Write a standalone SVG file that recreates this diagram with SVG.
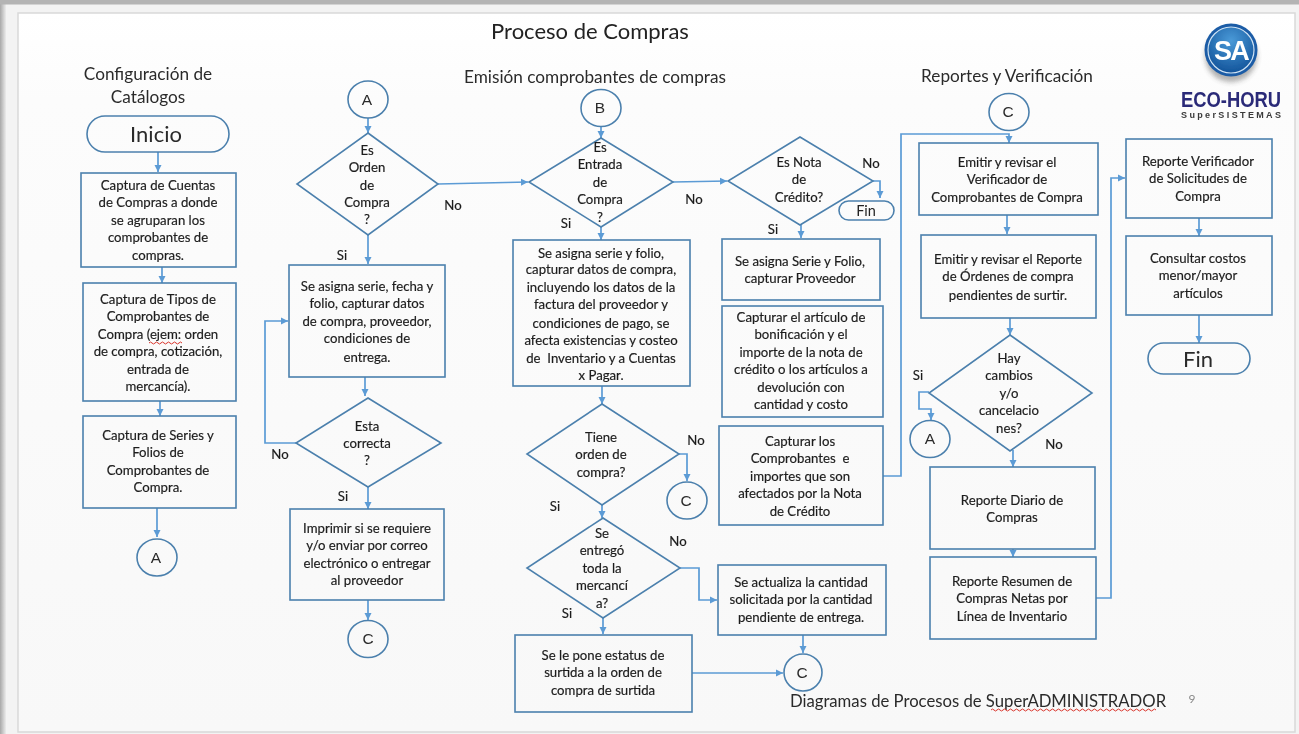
<svg xmlns="http://www.w3.org/2000/svg" width="1299" height="734" viewBox="0 0 1299 734">
<style>
.n{fill:none;stroke:#4c80ad;stroke-width:1.6}
.c{fill:none;stroke:#5b9bd5;stroke-width:1.7;marker-end:url(#ah)}
text{font-family:"Lato","Liberation Sans",sans-serif;fill:#222;text-anchor:middle}
.t text{font-size:13.2px;fill:#1c1c1c;stroke:#1c1c1c;stroke-width:0.18;transform:translateY(0.6px)}
.h{font-size:17.200px;fill:#2b2b2b;transform:translateY(0.8px)}
.k{font-size:22px;fill:#2b2b2b}
.o{font-family:"Liberation Sans",sans-serif;font-size:15.5px;fill:#2b2b2b}
.sq{fill:none;stroke:#d8352a;stroke-width:1}
</style>
<defs>
<marker id="ah" markerUnits="userSpaceOnUse" markerWidth="8" markerHeight="8" refX="7" refY="4" orient="auto"><path d="M0 0.5L7 4L0 7.5Z" fill="#5b9bd5"/></marker>
<linearGradient id="bg" x1="0" y1="0" x2="0" y2="1"><stop offset="0" stop-color="#fff"/><stop offset="0.12" stop-color="#fcfcfc"/><stop offset="1" stop-color="#f8f8f8"/></linearGradient>
<linearGradient id="ls" x1="0" y1="0" x2="1" y2="0"><stop offset="0" stop-color="#a8a8a8"/><stop offset="1" stop-color="#ececec"/></linearGradient>
<radialGradient id="sa" cx="0.5" cy="0.3" r="0.75"><stop offset="0" stop-color="#4a9ad8"/><stop offset="1" stop-color="#0f4f96"/></radialGradient>
<filter id="soft" filterUnits="userSpaceOnUse" x="0" y="0" width="1299" height="734"><feGaussianBlur stdDeviation="0.35"/></filter>
<filter id="shb" x="-30%" y="-30%" width="160%" height="160%"><feGaussianBlur stdDeviation="2.5"/></filter>
</defs>
<rect width="1299" height="734" fill="#f3f3f3"/>
<rect x="0" y="0" width="6" height="734" fill="url(#ls)"/>
<rect x="0" y="0" width="1299" height="4.500" fill="#b4b4b4"/>
<rect x="18" y="13" width="1277" height="719" fill="url(#bg)" stroke="#d9d9d9" stroke-width="1.500"/>
<g filter="url(#soft)">
<g id="connectors">
<path class="c" d="M158 152V172"/>
<path class="c" d="M162 267V283"/>
<path class="c" d="M160 401V416"/>
<path class="c" d="M157 508V537"/>
<path class="c" d="M368 118V133"/>
<path class="c" d="M368 235V264"/>
<path class="c" d="M365 377V396"/>
<path class="c" d="M296 443H265V321H288"/>
<path class="c" d="M368 487V509"/>
<path class="c" d="M368 600V620"/>
<path class="c" d="M438 184L528 182"/>
<path class="c" d="M601 126V138"/>
<path class="c" d="M601 227V240"/>
<path class="c" d="M673 182L727 181"/>
<path class="c" d="M873 181H880V198"/>
<path class="c" d="M801 225V238"/>
<path class="c" d="M602 386V404"/>
<path class="c" d="M679 454H687V481"/>
<path class="c" d="M602 505V518"/>
<path class="c" d="M680 568H699V600H717"/>
<path class="c" d="M603 618V634"/>
<path class="c" d="M692 673L783 673"/>
<path class="c" d="M803 635V653"/>
<path class="c" d="M883 476H901V134H1009V143"/>
<path class="c" d="M1007 215V234"/>
<path class="c" d="M1010 318V335"/>
<path class="c" d="M929 392H919V409H931V420"/>
<path class="c" d="M1013 450V467"/>
<path class="c" d="M1013 549V557"/>
<path class="c" d="M1096 598H1111V178H1125"/>
<path class="c" d="M1199 218V236"/>
<path class="c" d="M1199 315V343"/>
</g>
<g id="titles">
<text x="590" y="39" style="font-size:22px">Proceso de Compras</text>
<text class="h" x="148" y="79">Configuración de</text>
<text class="h" x="148" y="102">Catálogos</text>
<text class="h" x="595" y="82.500">Emisión comprobantes de compras</text>
<text class="h" x="1007" y="81">Reportes y Verificación</text>
<text class="h" x="978" y="706" style="font-size:16.700px">Diagramas de Procesos de SuperADMINISTRADOR</text>
<text x="1192" y="703" style="font-size:12px;fill:#8a8a8a">9</text>
<path class="sq" d="M991 710q1.500 -2 3 0t3 0t3 0t3 0t3 0t3 0t3 0t3 0t3 0t3 0t3 0t3 0t3 0t3 0t3 0t3 0t3 0t3 0t3 0t3 0t3 0t3 0t3 0t3 0t3 0t3 0t3 0t3 0t3 0t3 0t3 0t3 0t3 0t3 0t3 0t3 0t3 0t3 0t3 0t3 0t3 0t3 0t3 0t3 0t3 0t3 0t3 0t3 0t3 0t3 0t3 0t3 0t3 0t3 0t3 0"/>
</g>
<g id="labels" class="t">
<text x="453" y="209">No</text>
<text x="342" y="259">Si</text>
<text x="280" y="458">No</text>
<text x="343" y="500">Si</text>
<text x="566" y="227">Si</text>
<text x="694" y="203">No</text>
<text x="871" y="167">No</text>
<text x="773" y="233">Si</text>
<text x="696" y="444">No</text>
<text x="555" y="510">Si</text>
<text x="678" y="545">No</text>
<text x="567" y="617">Si</text>
<text x="918" y="379">Si</text>
<text x="1054" y="448">No</text>
</g>
<g id="inicio"><rect class="n" x="87" y="116" width="142" height="36" rx="18"/><text x="156" y="142" class="k">Inicio</text></g>
<g id="box-cuentas" class="t"><rect class="n" x="81" y="173" width="155" height="94"/>
<text x="158" y="189">Captura de Cuentas</text><text x="158" y="206">de Compras a donde</text><text x="158" y="224">se agruparan los</text><text x="158" y="241">comprobantes de</text><text x="158" y="259">compras.</text></g>
<g id="box-tipos" class="t"><rect class="n" x="83" y="283" width="153" height="118"/>
<text x="158" y="303">Captura de Tipos de</text><text x="158" y="320">Comprobantes de</text><text x="158" y="338">Compra (ejem: orden</text><text x="158" y="355">de compra, cotización,</text><text x="158" y="373">entrada de</text><text x="158" y="390">mercancía).</text>
<path class="sq" d="M149 343q1.500 -2 3 0t3 0t3 0t3 0t3 0t3 0t3 0t3 0t3 0t3 0t3 0"/></g>
<g id="box-series" class="t"><rect class="n" x="83" y="416" width="153" height="92"/>
<text x="158" y="439">Captura de Series y</text><text x="158" y="456">Folios de</text><text x="158" y="474">Comprobantes de</text><text x="158" y="491">Compra.</text></g>
<g id="conn-a1"><ellipse class="n" cx="157" cy="557.500" rx="20" ry="18.500"/><text class="o" x="156" y="563">A</text></g>
<g id="conn-a2"><ellipse class="n" cx="368" cy="99.500" rx="20" ry="18.500"/><text class="o" x="367" y="105">A</text></g>
<g id="dec-orden" class="t"><path class="n" d="M368 133L438 184L368 235L297 184Z"/>
<text x="367" y="154">Es</text><text x="367" y="171">Orden</text><text x="367" y="189">de</text><text x="367" y="206">Compra</text><text x="367" y="223">?</text></g>
<g id="box-serie" class="t"><rect class="n" x="289" y="265" width="156" height="112"/>
<text x="367" y="290">Se asigna serie, fecha y</text><text x="367" y="307">folio, capturar datos</text><text x="367" y="325">de compra, proveedor,</text><text x="367" y="342">condiciones de</text><text x="367" y="361">entrega.</text></g>
<g id="dec-correcta" class="t"><path class="n" d="M368 398L441 443L368 487L296 443Z"/>
<text x="367" y="430">Esta</text><text x="367" y="447">correcta</text><text x="367" y="464">?</text></g>
<g id="box-imprimir" class="t"><rect class="n" x="290" y="509" width="154" height="91"/>
<text x="367" y="532">Imprimir si se requiere</text><text x="367" y="549">y/o enviar por correo</text><text x="367" y="567">electrónico o entregar</text><text x="367" y="584">al proveedor</text></g>
<g id="conn-c1"><ellipse class="n" cx="368" cy="639" rx="20" ry="18.500"/><text class="o" x="368" y="644">C</text></g>
<g id="conn-b"><ellipse class="n" cx="601" cy="108" rx="20" ry="18.500"/><text class="o" x="600" y="113">B</text></g>
<g id="dec-entrada" class="t"><path class="n" d="M601 138L673 182L601 227L529 182Z"/>
<text x="600" y="151">Es</text><text x="600" y="168">Entrada</text><text x="600" y="186">de</text><text x="600" y="203">Compra</text><text x="600" y="221">?</text></g>
<g id="box-entrada" class="t"><rect class="n" x="513" y="240" width="177" height="146"/>
<text x="601" y="257">Se asigna serie y folio,</text><text x="601" y="273">capturar datos de compra,</text><text x="601" y="291">incluyendo los datos de la</text><text x="601" y="308">factura del proveedor y</text><text x="601" y="327">condiciones de pago, se</text><text x="601" y="344">afecta existencias y costeo</text><text x="601" y="362" xml:space="preserve">de  Inventario y a Cuentas</text><text x="601" y="379">x Pagar.</text></g>
<g id="dec-tiene" class="t"><path class="n" d="M602 404L679 454L602 505L527 454Z"/>
<text x="601" y="441">Tiene</text><text x="601" y="458">orden de</text><text x="601" y="476">compra?</text></g>
<g id="conn-c2"><ellipse class="n" cx="687" cy="500.500" rx="20" ry="18.500"/><text class="o" x="686" y="506">C</text></g>
<g id="dec-entrego" class="t"><path class="n" d="M603 518L680 568L603 618L527 568Z"/>
<text x="602" y="537">Se</text><text x="602" y="554">entregó</text><text x="602" y="572">toda la</text><text x="602" y="589">mercancí</text><text x="602" y="607">a?</text></g>
<g id="box-surtida" class="t"><rect class="n" x="515" y="635" width="177" height="77"/>
<text x="603" y="659">Se le pone estatus de</text><text x="603" y="676">surtida a la orden de</text><text x="603" y="694">compra de surtida</text></g>
<g id="box-actualiza" class="t"><rect class="n" x="718" y="565" width="168" height="70"/>
<text x="801" y="586">Se actualiza la cantidad</text><text x="801" y="603">solicitada por la cantidad</text><text x="801" y="621">pendiente de entrega.</text></g>
<g id="conn-c3"><ellipse class="n" cx="803" cy="672.500" rx="19" ry="18.500"/><text class="o" x="802" y="678">C</text></g>
<g id="dec-nota" class="t"><path class="n" d="M800 137L873 181L800 225L728 181Z"/>
<text x="799" y="166">Es Nota</text><text x="799" y="183">de</text><text x="799" y="201">Crédito?</text></g>
<g id="fin-nota"><rect class="n" x="839" y="201" width="55" height="19" rx="9.500"/><text x="866" y="216" style="font-size:14.500px">Fin</text></g>
<g id="box-nota-serie" class="t"><rect class="n" x="722" y="239" width="158" height="61"/>
<text x="800" y="265">Se asigna Serie y Folio,</text><text x="800" y="282">capturar Proveedor</text></g>
<g id="box-bonificacion" class="t"><rect class="n" x="722" y="306" width="161" height="111"/>
<text x="801" y="321">Capturar el artículo de</text><text x="801" y="338">bonificación y el</text><text x="801" y="356">importe de la nota de</text><text x="801" y="373">crédito o los artículos a</text><text x="801" y="391">devolución con</text><text x="801" y="408">cantidad y costo</text></g>
<g id="box-capturar" class="t"><rect class="n" x="719" y="426" width="164" height="99"/>
<text x="800" y="445">Capturar los</text><text x="800" y="462" xml:space="preserve">Comprobantes  e</text><text x="800" y="480">importes que son</text><text x="800" y="497">afectados por la Nota</text><text x="800" y="515">de Crédito</text></g>
<g id="conn-c4"><ellipse class="n" cx="1009" cy="112" rx="20" ry="18.500"/><text class="o" x="1008" y="117">C</text></g>
<g id="box-verificador" class="t"><rect class="n" x="919" y="143" width="179" height="72"/>
<text x="1007" y="166">Emitir y revisar el</text><text x="1007" y="183">Verificador de</text><text x="1007" y="201">Comprobantes de Compra</text></g>
<g id="box-ordenes" class="t"><rect class="n" x="921" y="235" width="175" height="83"/>
<text x="1008" y="263">Emitir y revisar el Reporte</text><text x="1008" y="280">de Órdenes de compra</text><text x="1008" y="299">pendientes de surtir.</text></g>
<g id="dec-cambios" class="t"><path class="n" d="M1010 335L1092 393L1010 451L929 393Z"/>
<text x="1009" y="362">Hay</text><text x="1009" y="379">cambios</text><text x="1009" y="397">y/o</text><text x="1009" y="414">cancelacio</text><text x="1009" y="432">nes?</text></g>
<g id="conn-a3"><ellipse class="n" cx="930" cy="439" rx="20" ry="18.500"/><text class="o" x="930" y="444">A</text></g>
<g id="box-diario" class="t"><rect class="n" x="930" y="467" width="165" height="82"/>
<text x="1012" y="504">Reporte Diario de</text><text x="1012" y="521">Compras</text></g>
<g id="box-resumen" class="t"><rect class="n" x="930" y="557" width="166" height="82"/>
<text x="1012" y="585">Reporte Resumen de</text><text x="1012" y="602">Compras Netas por</text><text x="1012" y="620">Línea de Inventario</text></g>
<g id="box-solicitudes" class="t"><rect class="n" x="1126" y="139" width="146" height="79"/>
<text x="1198" y="165">Reporte Verificador</text><text x="1198" y="182">de Solicitudes de</text><text x="1198" y="200">Compra</text></g>
<g id="box-costos" class="t"><rect class="n" x="1126" y="236" width="146" height="79"/>
<text x="1198" y="262">Consultar costos</text><text x="1198" y="279">menor/mayor</text><text x="1198" y="297">artículos</text></g>
<g id="fin"><rect class="n" x="1148" y="343" width="102" height="31" rx="15.500"/><text x="1198" y="367" class="k">Fin</text></g>
<g id="logo">
<ellipse cx="1231" cy="56" rx="26" ry="26" fill="#555" opacity="0.45" filter="url(#shb)"/>
<circle cx="1231" cy="50" r="26.500" fill="#1a5ca6"/>
<circle cx="1231" cy="50" r="23" fill="url(#sa)" stroke="#cfe2f3" stroke-width="1.200"/>
<text x="1231" y="60" style="font-family:'Liberation Sans',sans-serif;font-size:27px;font-weight:700;fill:#fff;letter-spacing:-1.800px">SA</text>
<text transform="translate(1231 106.500) scale(1 1.220)" style="font-family:'Liberation Sans',sans-serif;font-size:18.400px;font-weight:700;fill:#2b2a78">ECO-HORU</text>
<text x="1231" y="117.500" style="font-family:'Liberation Sans',sans-serif;font-size:9px;font-weight:700;fill:#3b3b3b" textLength="100" lengthAdjust="spacing">SuperSISTEMAS</text>
</g>
</g>
</svg>
